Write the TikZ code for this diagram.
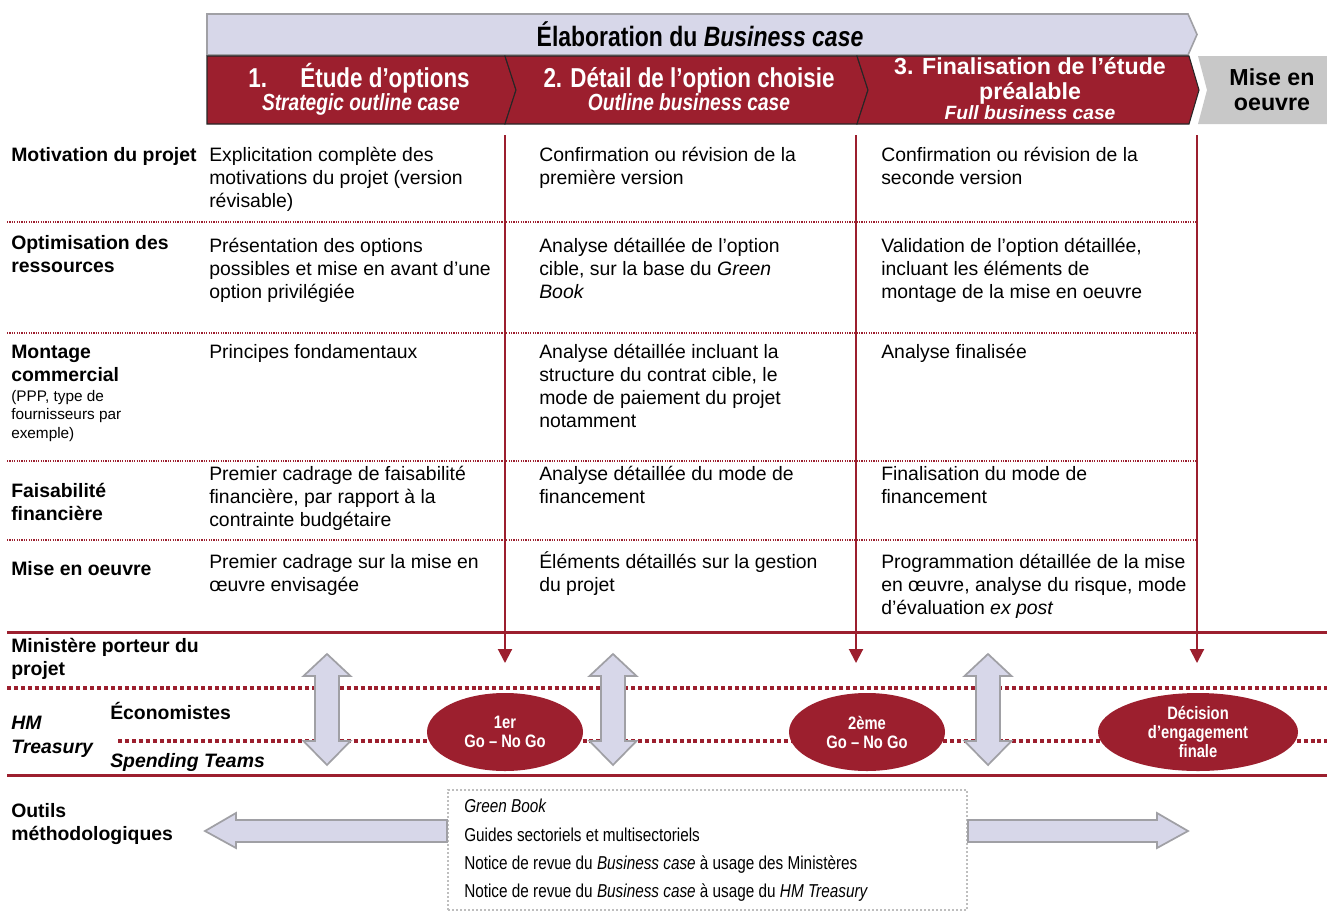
\documentclass[tikz,border=0pt]{standalone}
\usepackage{fontspec}
\setmainfont{Liberation Sans}
\newfontfamily\narrowfont[FakeStretch=0.82]{Liberation Sans}
\usetikzlibrary{arrows.meta,shapes.geometric}
\definecolor{brick}{RGB}{156,31,46}
\definecolor{lav}{RGB}{215,215,233}
\definecolor{lavborder}{RGB}{160,160,165}
\definecolor{greytab}{RGB}{200,200,200}
\definecolor{boxgrey}{RGB}{190,190,190}
\newcommand\rows[1]{\begin{tabular}[t]{@{}l@{}}#1\end{tabular}}
\begin{document}
\begin{tikzpicture}[x=0.75pt,y=-0.75pt,
  bodyfont/.style={font=\fontsize{14.55}{17.25}\selectfont},
  cell/.style={anchor=base west, inner sep=0pt, bodyfont},
  rowlabel/.style={anchor=base west, inner sep=0pt, font=\fontsize{14.55}{17.25}\selectfont\bfseries},
  small/.style={anchor=base west, inner sep=0pt, font=\fontsize{11.5}{13.9}\selectfont},
  chevtitle/.style={anchor=base, inner sep=0pt, text=white, font=\narrowfont\bfseries\fontsize{20.5}{22}\selectfont},
  chevsub/.style={anchor=base, inner sep=0pt, text=white, font=\narrowfont\bfseries\itshape\fontsize{17.5}{20}\selectfont},
  chev/.style={fill=brick, draw=black!85, line width=0.8pt},
  sepline/.style={draw=brick, line width=0.9pt, dash pattern=on 0.9pt off 0.9pt},
  bandline/.style={draw=brick, line width=2.25pt},
  banddots/.style={draw=brick, line width=3pt, dash pattern=on 3pt off 2.2pt},
  gate/.style={draw=brick, line width=1.5pt, -{Triangle[length=10.5pt,width=10.5pt]}},
  fatarrow/.style={fill=lav, draw=lavborder, line width=1.3pt, line join=miter},
  decision/.style={ellipse, fill=brick, inner sep=0pt, minimum height=58.5pt, text=white, align=center,
     font=\narrowfont\bfseries\fontsize{13.5}{14.25}\selectfont},
  tool/.style={anchor=base west, inner sep=0pt, font=\narrowfont\fontsize{14}{16}\selectfont}
]
\useasboundingbox (0,0) rectangle (1327,911);
\fill[white] (0,0) rectangle (1327,911);

% ---- header band and phases ----
\path[fill=lav, draw=lavborder, line width=1.2pt] (207,14) -- (1188,14) -- (1197,34.5) -- (1188,55) -- (207,55) -- cycle;
\node[anchor=base, inner sep=0pt, font=\narrowfont\bfseries\fontsize{21}{24}\selectfont] (title) at (700,46)
  {Élaboration du \textit{Business case}};

\path[chev] (207,56) -- (505,56) -- (516,90) -- (505,124) -- (207,124) -- cycle;
\path[chev] (505,56) -- (857,56) -- (868,90) -- (857,124) -- (505,124) -- (516,90) -- cycle;
\path[chev] (857,56) -- (1189,56) -- (1199,90) -- (1189,124) -- (857,124) -- (868,90) -- cycle;
\fill[greytab] (1198,56) -- (1327,56) -- (1327,124) -- (1198,124) -- (1207,90) -- cycle;

\node[chevtitle] (p1a) at (359,87) {1.\hspace{25pt}Étude d’options};
\node[chevsub] (p1b) at (361,110) {Strategic outline case};
\node[chevtitle] (p2a) at (689,87) {2. Détail de l’option choisie};
\node[chevsub] (p2b) at (689,110) {Outline business case};
\node[anchor=base, inner sep=0pt, text=white, font=\bfseries\fontsize{17.4}{20}\selectfont] (p3a) at (1030,74) {3. Finalisation de l’étude};
\node[anchor=base, inner sep=0pt, text=white, font=\bfseries\fontsize{17.4}{20}\selectfont] (p3b) at (1030,99) {préalable};
\node[anchor=base, inner sep=0pt, text=white, font=\bfseries\itshape\fontsize{14.4}{17}\selectfont] (p3c) at (1030,119) {Full business case};
\node[anchor=base, inner sep=0pt, font=\bfseries\fontsize{17.4}{20}\selectfont] (m1) at (1272,85) {Mise en};
\node[anchor=base, inner sep=0pt, font=\bfseries\fontsize{17.4}{20}\selectfont] (m2) at (1272,110) {oeuvre};

% ---- table row separators ----
\foreach \yy in {222,333,461,540} \draw[sepline] (7,\yy) -- (1196,\yy);

% ---- row labels ----
\node[rowlabel] (l1) at (11,161) {Motivation du projet};
\node[rowlabel] (l2) at (11,249) {\rows{Optimisation des\\ressources}};
\node[rowlabel] (l3) at (11,358) {\rows{Montage\\commercial}};
\node[small] (l3b) at (11,401) {\rows{(PPP, type de\\fournisseurs par\\exemple)}};
\node[rowlabel] (l4) at (11,497) {\rows{Faisabilité\\financière}};
\node[rowlabel] (l5) at (11,575) {Mise en oeuvre};

% ---- phase 1 column ----
\node[cell] (a1) at (209,161) {\rows{Explicitation complète des\\motivations du projet (version\\révisable)}};
\node[cell] (a2) at (209,252) {\rows{Présentation des options\\possibles et mise en avant d’une\\option privilégiée}};
\node[cell] (a3) at (209,358) {Principes fondamentaux};
\node[cell] (a4) at (209,480) {\rows{Premier cadrage de faisabilité\\financière, par rapport à la\\contrainte budgétaire}};
\node[cell] (a5) at (209,568) {\rows{Premier cadrage sur la mise en\\œuvre envisagée}};

% ---- phase 2 column ----
\node[cell] (b1) at (539,161) {\rows{Confirmation ou révision de la\\première version}};
\node[cell] (b2) at (539,252) {\rows{Analyse détaillée de l’option\\cible, sur la base du \textit{Green}\\\textit{Book}}};
\node[cell] (b3) at (539,358) {\rows{Analyse détaillée incluant la\\structure du contrat cible, le\\mode de paiement du projet\\notamment}};
\node[cell] (b4) at (539,480) {\rows{Analyse détaillée du mode de\\financement}};
\node[cell] (b5) at (539,568) {\rows{Éléments détaillés sur la gestion\\du projet}};

% ---- phase 3 column ----
\node[cell] (c1) at (881,161) {\rows{Confirmation ou révision de la\\seconde version}};
\node[cell] (c2) at (881,252) {\rows{Validation de l’option détaillée,\\incluant les éléments de\\montage de la mise en oeuvre}};
\node[cell] (c3) at (881,358) {Analyse finalisée};
\node[cell] (c4) at (881,480) {\rows{Finalisation du mode de\\financement}};
\node[cell] (c5) at (881,568) {\rows{Programmation détaillée de la mise\\en œuvre, analyse du risque, mode\\d’évaluation \textit{ex post}}};

% ---- actors band ----
\draw[bandline] (7,632) -- (1327,632);
\draw[banddots] (7,688) -- (1327,688);
\draw[banddots] (118,741) -- (1327,741);
\draw[bandline] (7,775) -- (1327,775);

\node[rowlabel] (min) at (11,652) {\rows{Ministère porteur du\\projet}};
\node[rowlabel, font=\fontsize{14.55}{18}\selectfont\bfseries\itshape] (hmt) at (11,729) {\rows{HM\\Treasury}};
\node[rowlabel] (eco) at (110,719) {Économistes};
\node[rowlabel] (spt) at (110,767) {\textit{Spending Teams}};

% exchanges between ministry and treasury
\foreach \cx in {327,613,988}
  \path[fatarrow] (\cx,654) -- (\cx+23.5,676) -- (\cx+12,676) -- (\cx+12,741) -- (\cx+23.5,741) -- (\cx,765)
    -- (\cx-23.5,741) -- (\cx-12,741) -- (\cx-12,676) -- (\cx-23.5,676) -- cycle;

% decision points
\node[decision, minimum width=117pt] (d1) at (505,732) {1er\\Go – No Go};
\node[decision, minimum width=117pt] (d2) at (867,732) {2ème\\Go – No Go};
\node[decision, minimum width=150pt] (d3) at (1198,732) {Décision\\d’engagement\\finale};

% phase ends leading to decisions
\coordinate (g1s) at (505,135); \coordinate (g1e) at (505,663);
\coordinate (g2s) at (856,135); \coordinate (g2e) at (856,663);
\coordinate (g3s) at (1197,135); \coordinate (g3e) at (1197,663);
\draw[gate] (g1s) -- (g1e);
\draw[gate] (g2s) -- (g2e);
\draw[gate] (g3s) -- (g3e);

% ---- methodological tools ----
\node[rowlabel] (outils) at (11,817) {\rows{Outils\\méthodologiques}};
\node[draw=boxgrey, line width=1.5pt, dash pattern=on 1.5pt off 1.5pt, inner sep=0pt,
      minimum width=389.25pt, minimum height=90pt, anchor=north west] (tools) at (447,789) {};
\node[tool] (t1) at (464,812) {\textit{Green Book}};
\node[tool] (t2) at (464,841) {Guides sectoriels et multisectoriels};
\node[tool] (t3) at (464,869) {Notice de revue du \textit{Business case} à usage des Ministères};
\node[tool] (t4) at (464,897) {Notice de revue du \textit{Business case} à usage du \textit{HM Treasury}};

\path[fatarrow] (tools.west |- 0,820) -- (236,820) -- (236,813) -- (205,831) -- (236,848) -- (236,842) -- (tools.west |- 0,842) -- cycle;
\path[fatarrow] (tools.east |- 0,820) -- (1157,820) -- (1157,813) -- (1188,831) -- (1157,848) -- (1157,842) -- (tools.east |- 0,842) -- cycle;
\end{tikzpicture}
\end{document}
